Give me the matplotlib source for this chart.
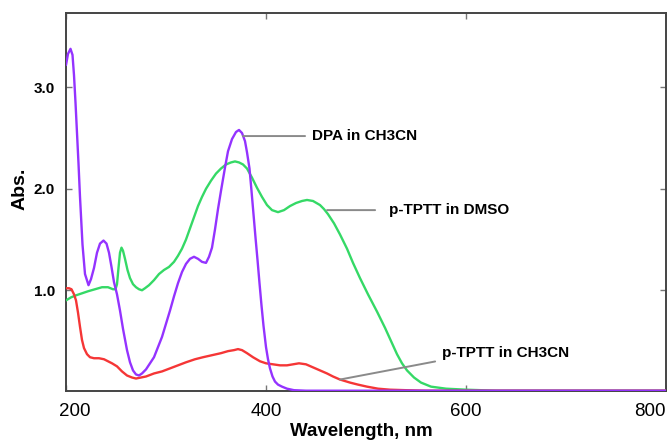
import matplotlib
matplotlib.use("Agg")
import matplotlib.pyplot as plt
from matplotlib.transforms import ScaledTranslation

plt.rcParams['font.family'] = ['Liberation Sans', 'DejaVu Sans']

# Absorption spectra (wavelength in nm, absorbance)
dpa_nm = [200, 202, 204.5, 206.5, 208, 209.5, 211, 212.5, 214, 216.5,
          219, 222.5, 225, 228, 231, 234, 237.5, 240.5, 243, 245.5,
          248, 251, 254, 257, 261, 264, 267, 270, 273, 276,
          280, 284, 288, 292, 296, 300, 304, 308, 312, 316,
          320, 324, 328, 332, 336, 340, 343, 346, 349, 352,
          355, 359, 362, 366, 370, 373, 376, 379, 381, 383.5,
          385.5, 387.5, 389.5, 391.5, 393.5, 395.5, 397.5, 400, 402, 404,
          406.5, 409, 412, 416, 421, 428, 440, 500, 600, 700, 800]
dpa_abs = [3.22, 3.33, 3.38, 3.32, 3.12, 2.85, 2.55, 2.25, 1.92, 1.45,
           1.16, 1.05, 1.11, 1.22, 1.37, 1.46, 1.49, 1.46, 1.37, 1.23,
           1.08, 0.96, 0.80, 0.62, 0.41, 0.29, 0.21, 0.17, 0.16, 0.18,
           0.22, 0.28, 0.34, 0.44, 0.54, 0.67, 0.80, 0.94, 1.07, 1.18,
           1.26, 1.31, 1.33, 1.31, 1.28, 1.27, 1.33, 1.42, 1.60, 1.80,
           1.98, 2.21, 2.37, 2.49, 2.56, 2.58, 2.55, 2.47, 2.36, 2.20,
           1.98, 1.75, 1.52, 1.30, 1.07, 0.85, 0.65, 0.44, 0.32, 0.23,
           0.15, 0.10, 0.07, 0.05, 0.03, 0.015, 0.01, 0.01, 0.01, 0.01, 0.01]

dmso_nm = [200, 205, 210, 216, 222, 229, 236, 242, 247, 249.5,
           251, 252.5, 254, 255.5, 257, 259, 261.5, 264, 267, 270,
           273, 276, 279, 283, 288, 293, 298, 303, 308, 312,
           316, 320, 324, 328, 332, 336, 340, 345, 350, 355,
           360, 365, 369, 373, 377, 381, 386, 391, 396, 401,
           406, 412, 418, 424, 430, 436, 441, 447, 454, 458,
           462, 468, 474, 481, 487, 494, 502, 511, 519, 525,
           531, 536, 541, 548, 555, 565, 580, 600, 630, 700, 800]
dmso_abs = [0.90, 0.93, 0.95, 0.97, 0.99, 1.01, 1.03, 1.03, 1.01, 1.01,
            1.06, 1.22, 1.37, 1.42, 1.39, 1.31, 1.20, 1.12, 1.06, 1.03,
            1.01, 1.00, 1.02, 1.05, 1.10, 1.16, 1.20, 1.23, 1.28, 1.34,
            1.41, 1.50, 1.61, 1.72, 1.83, 1.92, 2.00, 2.08, 2.15, 2.20,
            2.24, 2.26, 2.27, 2.26, 2.24, 2.20, 2.11, 2.01, 1.92, 1.84,
            1.79, 1.77, 1.79, 1.83, 1.86, 1.88, 1.89, 1.88, 1.84, 1.80,
            1.75, 1.66, 1.55, 1.41, 1.27, 1.12, 0.96, 0.79, 0.63, 0.50,
            0.37, 0.28, 0.21, 0.14, 0.09, 0.05, 0.03, 0.02, 0.01, 0.01, 0.01]

acn_nm = [200, 203, 205.5, 208, 210, 212, 214, 216, 218, 221,
          224, 228, 233, 238, 242, 246, 251, 256, 261, 266,
          270, 275, 280, 288, 296, 304, 312, 320, 329, 337,
          346, 355, 362, 368, 372, 376, 381, 387, 394, 400,
          407, 414, 421, 427, 433, 440, 447, 454, 461, 467,
          474, 484, 492, 501, 512, 524, 540, 560, 600, 700, 800]
acn_abs = [1.02, 1.02, 1.01, 0.96, 0.90, 0.78, 0.64, 0.51, 0.43, 0.37,
           0.34, 0.33, 0.33, 0.32, 0.30, 0.28, 0.25, 0.20, 0.16, 0.14,
           0.13, 0.14, 0.15, 0.18, 0.20, 0.23, 0.26, 0.29, 0.32, 0.34,
           0.36, 0.38, 0.40, 0.41, 0.42, 0.41, 0.38, 0.34, 0.30, 0.28,
           0.27, 0.26, 0.26, 0.27, 0.28, 0.27, 0.24, 0.21, 0.18, 0.15,
           0.12, 0.09, 0.07, 0.05, 0.03, 0.02, 0.015, 0.01, 0.01, 0.01, 0.01]

x_ticks = [200, 400, 600, 800]
y_ticks = [1.0, 2.0, 3.0]
y_tick_labels = ['1.0', '2.0', '3.0']

PURPLE = '#9433ff'
GREEN = '#35d966'
RED = '#f53636'
LEADER = '#8a8a8a'
FRAME = '#444444'

fig = plt.figure(figsize=(6.67, 4.43), dpi=100)
ax = fig.add_axes([66 / 667, 52.3 / 443, 600 / 667, 377.4 / 443])

style = dict(lw=1.7, solid_joinstyle='round', solid_capstyle='round')
ax.plot(dmso_nm, dmso_abs, color=GREEN, zorder=3, **style)
ax.plot(acn_nm, acn_abs, color=RED, zorder=3.1, **style)
ax.plot(dpa_nm, dpa_abs, color=PURPLE, zorder=3.2, **style)

ax.set_xlim(200, 800)
ax.set_ylim(0.01, 3.73)

for s in ax.spines.values():
    s.set_color(FRAME)
    s.set_linewidth(1.4)

ax.set_xticks(x_ticks)
ax.set_yticks(y_ticks)
ax.set_yticklabels(y_tick_labels)
ax.tick_params(axis='both', direction='in', length=4, width=1,
               color='#777777', top=True, right=True)
ax.tick_params(axis='x', labelsize=13.5, pad=8.5)
ax.tick_params(axis='y', labelsize=11, pad=8)
for lab in ax.get_yticklabels():
    lab.set_fontweight('bold')

# nudge the end labels inward
ticks = ax.xaxis.get_major_ticks()
first = ticks[0].label1
first.set_transform(first.get_transform() + ScaledTranslation(9 / 100, 0, fig.dpi_scale_trans))
last = ticks[-1].label1
last.set_transform(last.get_transform() + ScaledTranslation(-16.5 / 100, 0, fig.dpi_scale_trans))

ax.set_xlabel('Wavelength, nm', fontsize=13.5, fontweight='bold', va='center')
ax.xaxis.set_label_coords(0.493, -0.109)
ax.set_ylabel('Abs.', fontsize=14, fontweight='bold', va='center')
ax.yaxis.set_label_coords(-0.077, 0.534)

lead = dict(arrowstyle='-', color=LEADER, lw=1.4, shrinkB=0)
ax.annotate('DPA in CH3CN', xy=(377, 2.52), xytext=(446, 2.52),
            ha='left', va='center', fontsize=11, fontweight='bold',
            arrowprops=dict(lead, shrinkA=3, relpos=(0, 0.5)), zorder=4)
ax.annotate('p-TPTT in DMSO', xy=(461, 1.79), xytext=(523, 1.79),
            ha='left', va='center', fontsize=11, fontweight='bold',
            arrowprops=dict(lead, shrinkA=8, relpos=(0, 0.5)), zorder=4)
ax.annotate('p-TPTT in CH3CN', xy=(474, 0.12), xytext=(576, 0.38),
            ha='left', va='center', fontsize=11, fontweight='bold',
            arrowprops=dict(lead, shrinkA=3, relpos=(0, 0.0)), zorder=4)

fig.savefig('out.png', dpi=100)
